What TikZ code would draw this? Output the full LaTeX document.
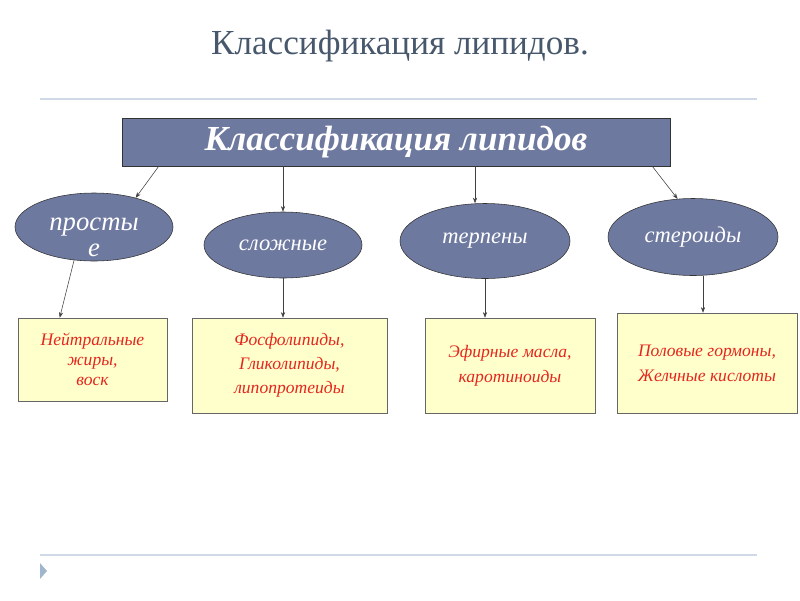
\documentclass[tikz,border=0pt]{standalone}
\usepackage{fontspec}
\setmainfont{Liberation Serif}
\usetikzlibrary{shapes.geometric,arrows.meta}
\definecolor{titlegray}{RGB}{72,88,108}
\definecolor{rulegray}{RGB}{208,218,230}
\definecolor{slate}{RGB}{110,121,160}
\definecolor{paleyellow}{RGB}{255,255,204}
\definecolor{lipidred}{RGB}{228,38,30}
\definecolor{trimark}{RGB}{160,182,206}
\begin{document}
\begin{tikzpicture}[
  grp/.style={ellipse, draw=black!80, fill=slate, text=white, inner sep=0pt,
    font=\itshape\fontsize{16}{20}\selectfont},
  ex/.style={rectangle, draw=black!60, fill=paleyellow, text=lipidred, align=center,
    inner sep=0pt, font=\itshape\fontsize{12.5}{18}\selectfont},
  arr/.style={-{Stealth[length=4pt,width=3pt]}, black!75, thin}
]
\useasboundingbox (0,0) rectangle (20,-15);
% Title and rules
\node[text=titlegray, font=\fontsize{25}{28}\selectfont] (title) at (10,-1.15) {Классификация липидов.};
\draw[rulegray, line width=1.5pt] (1,-2.475) -- (18.925,-2.475);
\draw[rulegray, line width=1.5pt] (1,-13.875) -- (18.925,-13.875);
\fill[trimark] (1,-14.075) -- (1.175,-14.275) -- (1,-14.475) -- cycle;
% Main box
\node[draw=black!80, fill=slate, text=white, minimum width=13.7cm, minimum height=1.2cm,
  font=\bfseries\itshape\fontsize{25}{28}\selectfont] (main) at (9.9,-3.55) {Классификация липидов};
% Groups
\node[grp, minimum width=3.95cm, minimum height=1.7cm] (prost) at (2.35,-5.675) {};
\node[text=white, align=center, font=\itshape\fontsize{19}{19}\selectfont] (prostname) at (2.35,-5.93) {просты\\е};
\node[grp, minimum width=3.95cm, minimum height=1.65cm] (slozh) at (7.075,-6.125) {сложные};
\node[grp, minimum width=4.25cm, minimum height=1.875cm] (terp) at (12.125,-6.025) {терпены};
\node[grp, minimum width=4.25cm, minimum height=1.925cm] (ster) at (17.325,-5.925) {стероиды};
% Examples
\node[ex, minimum width=3.725cm, minimum height=2.075cm, font=\itshape\fontsize{12.5}{14}\selectfont] (b1) at (2.3125,-8.9875) {Нейтральные\\жиры,\\воск};
\node[ex, minimum width=4.875cm, minimum height=2.375cm, font=\itshape\fontsize{12.5}{17}\selectfont] (b2) at (7.2375,-9.1375) {Фосфолипиды,\\Гликолипиды,\\липопротеиды};
\node[ex, minimum width=4.25cm, minimum height=2.375cm] (b3) at (12.75,-9.1375) {Эфирные масла,\\каротиноиды};
\node[ex, minimum width=4.5cm, minimum height=2.5cm] (b4) at (17.675,-9.075) {Половые гормоны,\\Желчные кислоты};
% Arrows
\coordinate (tp) at ([xshift=-0.25cm]terp.north);
\coordinate (sb) at ([xshift=0.25cm]ster.south);
\draw[arr] ([xshift=0.925cm]main.south west) -- (prost.35);
\draw[arr] (slozh.north |- main.south) -- (slozh.north);
\draw[arr] (tp |- main.south) -- (tp);
\draw[arr] ([xshift=-0.45cm]main.south east) -- (ster.112);
\draw[arr] (prost.239) -- ([xshift=1.05cm]b1.north west);
\draw[arr] (slozh.south) -- (slozh.south |- b2.north);
\draw[arr] (terp.south) -- (terp.south |- b3.north);
\draw[arr] (sb) -- (sb |- b4.north);
\end{tikzpicture}
\end{document}
